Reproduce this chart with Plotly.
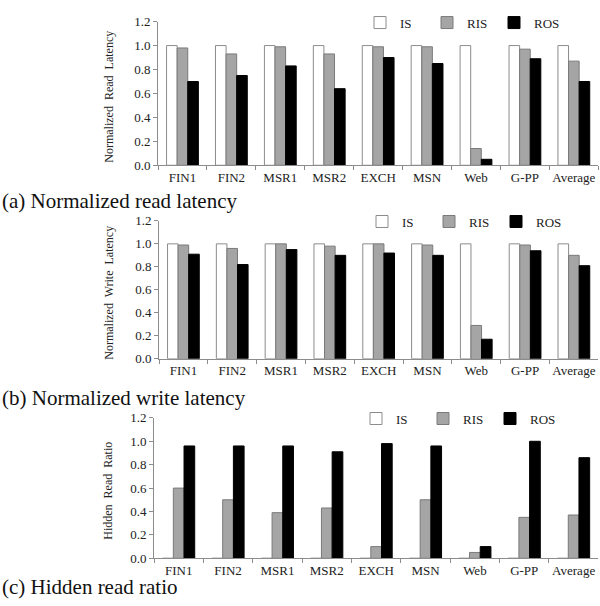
import plotly.graph_objects as go

categories = ["FIN1", "FIN2", "MSR1", "MSR2", "EXCH", "MSN", "Web", "G-PP", "Average"]
series_names = ["IS", "RIS", "ROS"]

# (a) Normalized read latency
read_is = [1.0, 1.0, 1.0, 1.0, 1.0, 1.0, 1.0, 1.0, 1.0]
read_ris = [0.98, 0.93, 0.99, 0.93, 0.99, 0.99, 0.14, 0.97, 0.87]
read_ros = [0.70, 0.75, 0.83, 0.64, 0.90, 0.85, 0.05, 0.89, 0.70]

# (b) Normalized write latency
write_is = [1.0, 1.0, 1.0, 1.0, 1.0, 1.0, 1.0, 1.0, 1.0]
write_ris = [0.99, 0.96, 1.0, 0.98, 1.0, 0.99, 0.29, 0.99, 0.90]
write_ros = [0.91, 0.82, 0.95, 0.90, 0.92, 0.90, 0.17, 0.94, 0.81]

# (c) Hidden read ratio
hidden_is = [0, 0, 0, 0, 0, 0, 0, 0, 0]
hidden_ris = [0.60, 0.50, 0.39, 0.43, 0.10, 0.50, 0.05, 0.35, 0.37]
hidden_ros = [0.96, 0.96, 0.96, 0.91, 0.98, 0.96, 0.10, 1.0, 0.86]

y_ticks = [0.0, 0.2, 0.4, 0.6, 0.8, 1.0, 1.2]
captions = ["(a) Normalized read latency", "(b) Normalized write latency", "(c) Hidden read ratio"]
y_titles = ["Normalized\u00a0 Read\u00a0 Latency", "Normalized\u00a0 Write\u00a0 Latency", "Hidden\u00a0 Read\u00a0 Ratio"]

W, H = 600, 606
FONT = "Liberation Serif, Times New Roman, serif"

fills = ["#ffffff", "#a5a5a5", "#000000"]
lines = ["#8c8c8c", "#7a7a7a", "#000000"]

panels = [
    (read_is, read_ris, read_ros),
    (write_is, write_ris, write_ros),
    (hidden_is, hidden_ris, hidden_ros),
]

# pixel geometry (left, right, top(1.2), bottom(0))
geom = [
    (158, 598.3, 15.0, 162.3),
    (159, 598.3, 219.3, 360.7),
    (154, 598.3, 421.3, 565.3),
]
legend_pos = [(360, 16), (362, 220), (356, 422)]
title_pos = [(109, 92), (109, 293), (108, 496)]
caption_y = [199, 401, 595]

fig = go.Figure()
suffix = ["", "2", "3"]
for p, vals in enumerate(panels):
    for s, name in enumerate(series_names):
        fig.add_trace(go.Bar(
            x=categories, y=vals[s], name=name,
            marker=dict(color=fills[s], line=dict(color=lines[s], width=1)),
            xaxis="x" + suffix[p], yaxis="y" + suffix[p],
            legend="legend" + suffix[p],
            showlegend=True,
        ))

layout = dict(
    width=W, height=H,
    margin=dict(l=0, r=0, t=0, b=0),
    paper_bgcolor="white", plot_bgcolor="white",
    barmode="group", bargap=0.35, bargroupgap=0,
    font=dict(family=FONT, size=13, color="#222222"),
    showlegend=True,
)

annotations = []
for p in range(3):
    l, r, t, b = geom[p]
    xd = [l / W, r / W]
    yd = [1 - b / H, 1 - t / H]
    layout["xaxis" + suffix[p]] = dict(
        domain=xd, anchor="y" + suffix[p],
        showline=True, linecolor="#8c8c8c", linewidth=1,
        ticks="outside", tickson="boundaries", ticklen=4, tickcolor="#8c8c8c",
        showgrid=False, tickangle=0,
        tickfont=dict(family=FONT, size=13, color="#222222"),
        fixedrange=True,
    )
    layout["yaxis" + suffix[p]] = dict(
        domain=yd, anchor="x" + suffix[p],
        range=[0, 1.2], tickvals=y_ticks, tickformat=".1f",
        showline=True, linecolor="#8c8c8c", linewidth=1,
        ticks="outside", ticklen=4, tickcolor="#8c8c8c",
        showgrid=False, zeroline=False,
        tickfont=dict(family=FONT, size=13, color="#222222"),
        fixedrange=True,
    )
    lx, ly = legend_pos[p]
    layout["legend" + suffix[p]] = dict(
        orientation="h", x=lx / W, y=1 - ly / H, xanchor="left", yanchor="middle",
        font=dict(family=FONT, size=13, color="#222222"),
        bgcolor="rgba(0,0,0,0)", itemwidth=30, entrywidth=22, entrywidthmode="pixels",
        tracegroupgap=0, traceorder="normal",
    )
    tx, ty = title_pos[p]
    annotations.append(dict(
        text=y_titles[p], x=tx / W, y=1 - ty / H, xref="paper", yref="paper",
        textangle=-90, showarrow=False, xanchor="center", yanchor="middle",
        font=dict(family=FONT, size=12, color="#222222"),
    ))
    annotations.append(dict(
        text=captions[p], x=0, y=1 - caption_y[p] / H, xref="paper", yref="paper",
        showarrow=False, xanchor="left", yanchor="middle",
        font=dict(family=FONT, size=21, color="#111111"),
    ))

layout["annotations"] = annotations
fig.update_layout(**layout)
fig.write_html(
    "out.html",
    config={"displayModeBar": False},
    post_script="document.body.style.margin='0';document.body.style.overflow='hidden';",
)
